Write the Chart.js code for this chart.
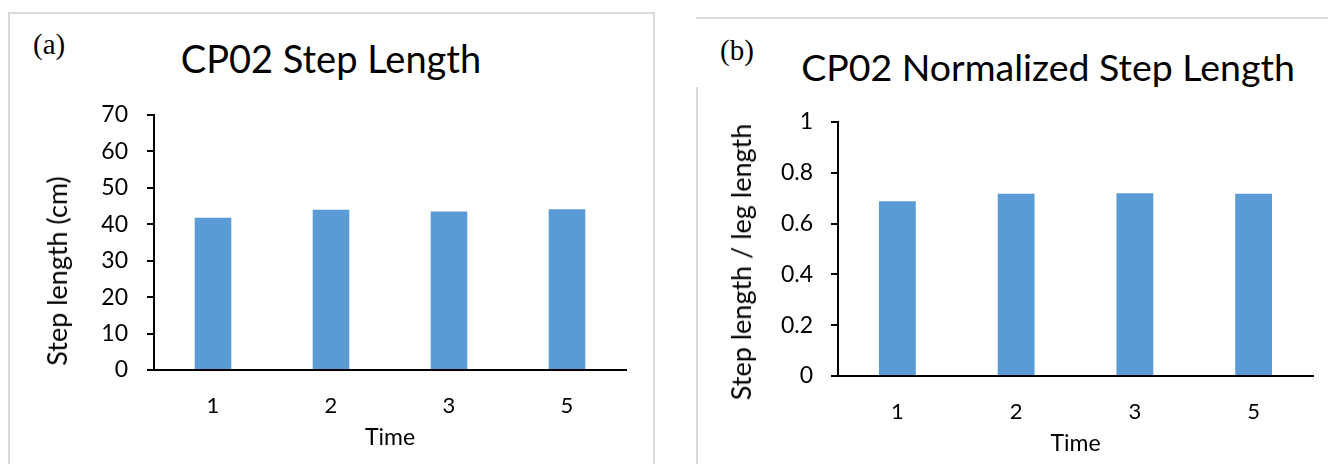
<!DOCTYPE html>
<html lang="en">
<head>
    <meta charset="UTF-8">
    <title>CP02 Step Length</title>
    <script src="https://cdn.jsdelivr.net/npm/chart.js"></script>
    <style>
        body {
            margin: 0;
            width: 1328px;
            height: 464px;
            background: #fff;
            position: relative;
            overflow: hidden;
            font-family: Lato, sans-serif;
        }
        .panel {
            position: absolute;
            box-sizing: border-box;
        }
        #panelA {
            left: 8px; top: 12px; width: 647px; height: 470px;
            border: 2px solid #d9d9d9;
        }
        #panelB {
            left: 696px; top: 17px; width: 640px; height: 470px;
            border-top: 2px solid #d9d9d9;
        }
        #panelBLeft {
            position: absolute;
            left: 696px; top: 87px; width: 2px; height: 400px;
            background: #d9d9d9;
        }
        .wrap { position: absolute; }
        #wrapA { left: 8px; top: 12px; width: 647px; height: 452px; }
        #wrapB { left: 697px; top: 18px; width: 631px; height: 446px; }
        .tag {
            position: absolute;
            font-family: "Liberation Serif", "DejaVu Serif", serif;
            font-size: 29px;
            line-height: 29px;
            color: #000;
        }
        .title {
            position: absolute;
            font-size: 38px;
            line-height: 38px;
            color: #000;
            white-space: nowrap;
            transform: translateX(-50%);
        }
        .ytitle {
            position: absolute;
            font-size: 27px;
            line-height: 32px;
            color: #000;
            white-space: nowrap;
            transform: translate(-50%, -50%) rotate(-90deg);
        }
    </style>
</head>
<body>
    <div class="panel" id="panelA"></div>
    <div class="panel" id="panelB"></div>
    <div id="panelBLeft"></div>

    <div class="tag" style="left:33px; top:30px;">(a)</div>
    <div class="tag" style="left:720px; top:36px;">(b)</div>
    <div class="title" style="left:331px; top:39px;">CP02 Step Length</div>
    <div class="title" style="left:1048px; top:48px; font-size:37.5px;">CP02 Normalized Step Length</div>

    <div class="wrap" id="wrapA"><canvas id="chartA"></canvas></div>
    <div class="wrap" id="wrapB"><canvas id="chartB"></canvas></div>

    <div class="ytitle" style="left:57px; top:271px;">Step length (cm)</div>
    <div class="ytitle" style="left:741px; top:262px;">Step length / leg length</div>

<script>
const times = ['1', '2', '3', '5'];
const stepLength = [41.8, 44.0, 43.5, 44.1];
const normStepLength = [0.688, 0.718, 0.719, 0.718];

const barColor = '#5b9bd5';

function makeChart(id, data, yMax, yStep, pad, yWidth, xHeight, xTitlePad, tickPad) {
    new Chart(document.getElementById(id), {
        type: 'bar',
        data: {
            labels: times,
            datasets: [{
                data,
                backgroundColor: barColor,
                borderWidth: 0,
                categoryPercentage: 1,
                barPercentage: 0.31
            }]
        },
        options: {
            responsive: true,
            maintainAspectRatio: false,
            animation: false,
            events: [],
            layout: { padding: pad },
            plugins: {
                legend: { display: false },
                tooltip: { enabled: false }
            },
            scales: {
                x: {
                    grid: { display: false, drawTicks: false },
                    border: { color: '#000', width: 2 },
                    ticks: { color: '#000', font: { family: 'Lato', size: 22 }, padding: 23 },
                    title: {
                        display: true, text: 'Time', color: '#000',
                        font: { family: 'Lato', size: 23 },
                        padding: { top: 0, bottom: xTitlePad }
                    },
                    afterFit: s => { s.height = xHeight; }
                },
                y: {
                    min: 0,
                    max: yMax,
                    grid: { drawOnChartArea: false, drawTicks: true, tickLength: 7, color: '#000', lineWidth: 2 },
                    border: { color: '#000', width: 2 },
                    ticks: {
                        stepSize: yStep,
                        color: '#000',
                        font: { family: 'Lato', size: 23 },
                        padding: tickPad,
                        callback: v => String(+v.toFixed(1))
                    },
                    // axis title is drawn as rotated text outside the canvas
                    title: { display: false },
                    afterFit: s => { s.width = yWidth; }
                }
            }
        }
    });
}

makeChart('chartA', stepLength, 70, 10,
    { left: 0, right: 29, top: 103, bottom: 0 }, 146, 94, 13, 19);
makeChart('chartB', normStepLength, 1, 0.2,
    { left: 0, right: 15, top: 104, bottom: 0 }, 141, 88, 7, 18);
</script>
</body>
</html>
